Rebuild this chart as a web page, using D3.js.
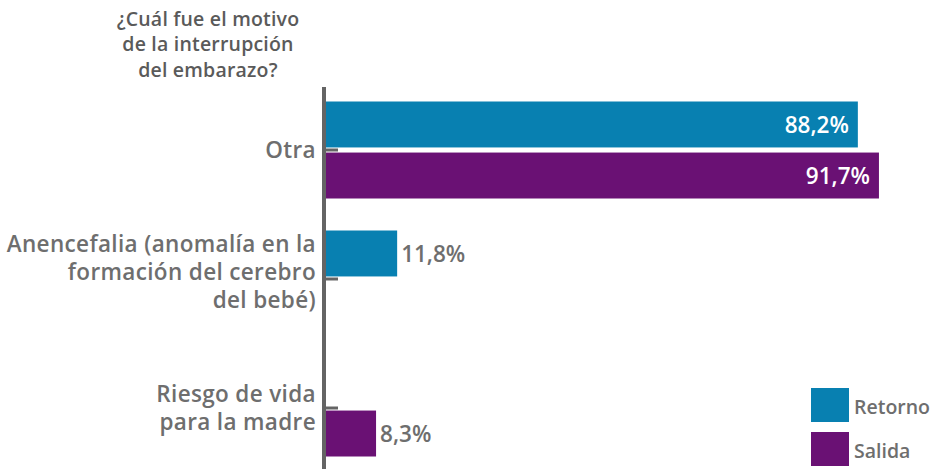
<!DOCTYPE html>
<html lang="es">
<head>
  <meta charset="UTF-8">
  <title>Motivo de la interrupción</title>
  <script src="https://cdnjs.cloudflare.com/ajax/libs/d3/7.8.5/d3.min.js"></script>
  <style>
    body { margin: 0; background: #fff; }
    text { font-family: "Open Sans", sans-serif; font-weight: 600; }
  </style>
</head>
<body>
<script>
var width = 932, height = 469;

var categories = [
  ["Otra"],
  ["Anencefalia (anomalía en la", "formación del cerebro", "del bebé)"],
  ["Riesgo de vida", "para la madre"]
];
var seriesNames = ["Retorno", "Salida"];
var retorno = [88.2, 11.8, null];
var salida = [91.7, null, 8.3];
var titleLines = ["¿Cuál fue el motivo", "de la interrupción", "del embarazo?"];

// small vertical nudge of the label blocks, as in the original layout
var labelNudge = [0, -7, 0];

var blue = "#0880b1",
    purple = "#6a1174",
    gray = "#6e6e6e";
var color = {Retorno: blue, Salida: purple};

var svg = d3.select("body").append("svg")
    .attr("width", width)
    .attr("height", height);

var cats = categories.map(function(c, i) { return "c" + i; });

var y = d3.scaleBand()
    .domain(cats)
    .range([85.5, 472.5]);

var y1 = d3.scaleBand()
    .domain(seriesNames)
    .range([y.bandwidth() / 2 - 48.5, y.bandwidth() / 2 + 48.5])
    .paddingInner(0.1);

var x = d3.scaleLinear()
    .domain([0, 100])
    .range([326, 929]);

// title
svg.append("text")
    .attr("x", 208)
    .attr("y", 25.5)
    .attr("text-anchor", "middle")
    .style("font-size", "19.5px")
    .style("letter-spacing", "0.2px")
    .style("fill", "#5a5a5a")
  .selectAll("tspan")
    .data(titleLines)
  .enter().append("tspan")
    .attr("x", 208)
    .attr("dy", function(d, i) { return i ? 25.5 : 0; })
    .text(function(d) { return d; });

// bars
var rows = cats.map(function(c, i) {
  return {cat: c, values: [
    {name: "Retorno", v: retorno[i]},
    {name: "Salida", v: salida[i]}
  ]};
});

var group = svg.selectAll(".grp")
    .data(rows)
  .enter().append("g")
    .attr("class", "grp")
    .attr("transform", function(d) { return "translate(0," + y(d.cat) + ")"; });

var bar = group.selectAll(".bar")
    .data(function(d) { return d.values.filter(function(v) { return v.v != null; }); })
  .enter();

bar.append("rect")
    .attr("x", x(0))
    .attr("y", function(d) { return y1(d.name); })
    .attr("width", function(d) { return x(d.v) - x(0); })
    .attr("height", y1.bandwidth())
    .style("fill", function(d) { return color[d.name]; });

bar.append("text")
    .attr("x", function(d) { return d.v > 50 ? x(d.v) - 9 : x(d.v) + 4; })
    .attr("y", function(d) { return y1(d.name) + y1.bandwidth() / 2; })
    .attr("dy", "0.36em")
    .attr("text-anchor", function(d) { return d.v > 50 ? "end" : "start"; })
    .style("font-size", "22.5px")
    .style("fill", function(d) { return d.v > 50 ? "#fff" : gray; })
    .text(function(d) { return d3.format(".1f")(d.v).replace(".", ",") + "%"; });

// axis
var yAxis = d3.axisLeft(y).tickSize(0).tickFormat("");
var axisG = svg.append("g")
    .attr("transform", "translate(324,0)")
    .call(yAxis);
axisG.select(".domain").remove();
axisG.append("line")
    .attr("x1", 0).attr("x2", 0)
    .attr("y1", 87).attr("y2", height)
    .style("stroke", "#646464")
    .style("stroke-width", 4);
axisG.selectAll(".tick").append("line")
    .attr("x1", 0).attr("x2", 14)
    .style("stroke", "#646464")
    .style("stroke-width", 3);

// category labels
var labels = svg.selectAll(".cat")
    .data(cats)
  .enter().append("text")
    .attr("class", "cat")
    .attr("text-anchor", "end")
    .style("font-size", "22.5px")
    .style("letter-spacing", "0.35px")
    .style("fill", gray)
    .attr("transform", function(d, i) {
      return "translate(316," + (y(d) + y.bandwidth() / 2 + labelNudge[i]) + ")";
    });

labels.selectAll("tspan")
    .data(function(d, i) {
      var lines = categories[i];
      return lines.map(function(l, j) { return {t: l, j: j, n: lines.length}; });
    })
  .enter().append("tspan")
    .attr("x", 0)
    .attr("y", function(d) { return (d.j - (d.n - 1) / 2) * 28; })
    .attr("dy", "0.36em")
    .text(function(d) { return d.t; });

// legend
var legend = svg.selectAll(".leg")
    .data(seriesNames)
  .enter().append("g")
    .attr("class", "leg")
    .attr("transform", function(d, i) { return "translate(811," + (388 + i * 44) + ")"; });

legend.append("rect")
    .attr("width", 38)
    .attr("height", 34)
    .style("fill", function(d) { return color[d]; });

legend.append("text")
    .attr("x", 43)
    .attr("y", 19)
    .attr("dy", "0.36em")
    .style("font-size", "19.5px")
    .style("fill", gray)
    .text(function(d) { return d; });
</script>
</body>
</html>
